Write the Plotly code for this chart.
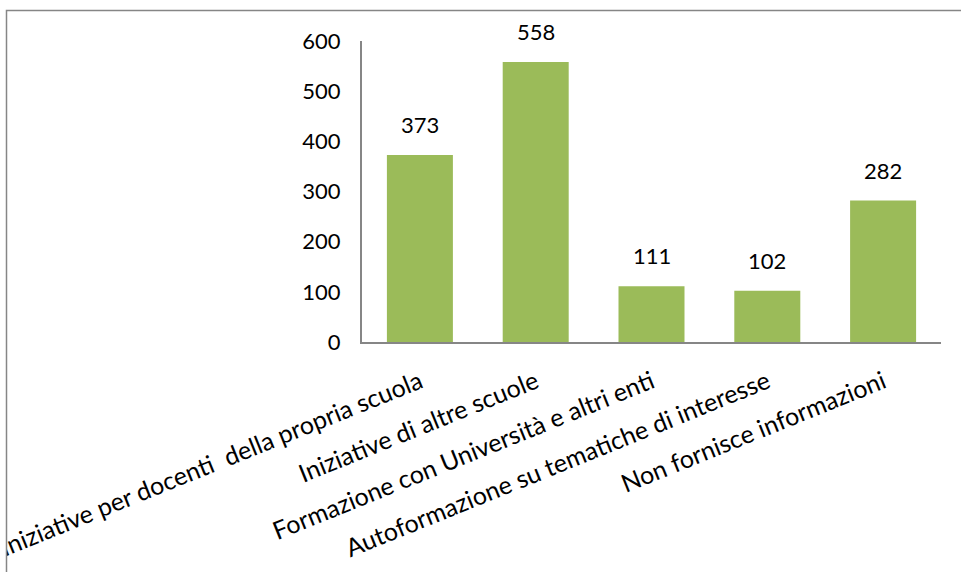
import plotly.graph_objects as go

categories = [
    "Iniziative per docenti\u00a0 della propria scuola",
    "Iniziative di altre scuole",
    "Formazione con Università e altri enti",
    "Autoformazione su tematiche di interesse",
    "Non fornisce informazioni",
]
values = [373, 558, 111, 102, 282]
y_ticks = [0, 100, 200, 300, 400, 500, 600]

W, H = 961, 572
PW, PH = 579, 301
ML = 362
MT = 41
MR = W - ML - PW
MB = H - MT - PH
FONT = "Lato, Calibri, sans-serif"
AXIS = "#868686"
BORDER_X = 6.5
BORDER_Y = 10.5

fig = go.Figure(go.Bar(
    x=categories, y=values,
    marker=dict(color="#9BBB59", line=dict(width=0)),
    width=0.57,
    hoverinfo="skip",
))

for c, v in zip(categories, values):
    fig.add_annotation(x=c, y=v, text=str(v), showarrow=False,
                       yanchor="bottom", yshift=15,
                       font=dict(family=FONT, size=22, color="#000000"))

# chart-area clip on the left (outside the border) and the border itself
fig.add_shape(type="rect", xref="paper", yref="paper",
              x0=-1.0, x1=(BORDER_X - ML) / PW,
              y0=-1.5, y1=2.0,
              line=dict(width=0), fillcolor="white", layer="above")
fig.add_shape(type="rect", xref="paper", yref="paper",
              x0=(BORDER_X - ML) / PW, x1=2.0,
              y0=-1.5, y1=(H - MB - BORDER_Y) / PH,
              line=dict(color=AXIS, width=1.5), fillcolor="rgba(0,0,0,0)",
              layer="above")

fig.update_layout(
    width=W, height=H,
    margin=dict(l=ML, r=MR, t=MT, b=MB, autoexpand=False),
    paper_bgcolor="white", plot_bgcolor="white",
    showlegend=False,
    font=dict(family=FONT, size=22, color="#000000"),
    xaxis=dict(
        type="category", tickangle=-22, showgrid=False, showline=True,
        linecolor=AXIS, linewidth=2, ticks="", automargin=False,
        ticklabelstandoff=14,
        tickfont=dict(family=FONT, size=25, color="#000000"),
    ),
    yaxis=dict(
        range=[0, 600], tickvals=y_ticks, showgrid=False, showline=True,
        linecolor=AXIS, linewidth=2, ticks="", automargin=False,
        ticklabelstandoff=15, zeroline=False,
        tickfont=dict(family=FONT, size=22, color="#000000"),
    ),
)

fig.write_html("out.html",
               config={"displayModeBar": False, "staticPlot": True},
               post_script="document.body.style.margin='0';document.body.style.padding='0';")
